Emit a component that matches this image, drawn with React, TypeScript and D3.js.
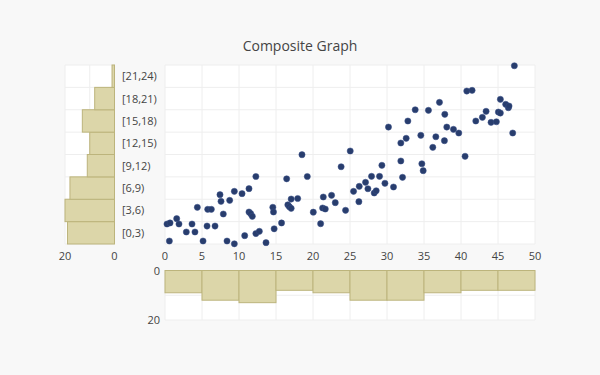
import React from "react";
import * as d3 from "d3";

// scatter points
const pointX = [
  0.27, 0.68, 0.59, 1.58, 1.89, 2.88, 3.65, 4.05, 4.37, 5.14,
  5.68, 5.77, 6.26, 6.76, 7.43, 7.57, 7.88, 8.38, 8.74, 9.37,
  9.37, 10.41, 10.77, 11.35, 11.35, 11.58, 11.8, 12.28, 12.28, 12.75,
  13.65, 14.57, 14.66, 14.75, 15.75, 16.44, 16.6, 16.8, 17.05, 17.05,
  17.93, 18.51, 19.23, 20.04, 21.03, 21.39, 21.3, 21.66, 22.51, 23.01,
  23.8, 24.4, 25.03, 25.48, 26.2, 26.25, 27.1, 27.42, 27.91, 28.27,
  28.54, 28.99, 29.31, 29.72, 30.2, 30.88, 31.87, 31.87, 32.1, 32.59,
  32.82, 33.81, 34.57, 34.71, 34.89, 35.6, 36.19, 36.6, 37.09, 37.76,
  37.81, 38.08, 38.98, 39.7, 40.55, 40.78, 41.5, 42.0, 42.89, 43.39,
  44.06, 44.78, 45.05, 45.32, 45.32, 46.04, 46.4, 46.49, 46.99, 47.21,
];
const pointY = [
  2.68, 2.82, 0.4, 3.4, 2.68, 1.61, 2.68, 1.61, 4.92, 0.4,
  2.41, 4.65, 4.65, 2.41, 6.61, 5.72, 4.02, 0.4, 5.85, 0.03,
  7.06, 6.75, 1.12, 7.42, 4.29, 4.07, 3.71, 9.05, 1.4, 1.7,
  0.18, 4.92, 4.29, 2.04, 2.82, 8.74, 5.25, 5.0, 4.78, 6.03,
  6.1, 11.97, 9.05, 4.27, 2.72, 6.3, 4.83, 4.69, 6.53, 5.54,
  10.36, 4.52, 12.47, 7.06, 5.67, 7.73, 8.27, 7.41, 9.07, 6.84,
  7.14, 9.07, 10.55, 8.14, 15.68, 7.64, 13.54, 11.13, 8.94, 14.17,
  16.49, 18.0, 14.57, 10.76, 9.83, 17.92, 12.96, 14.38, 18.99, 13.85,
  17.39, 15.68, 15.37, 14.88, 11.76, 20.51, 20.6, 16.49, 16.98, 17.79,
  16.31, 16.39, 17.69, 19.4, 17.56, 18.73, 18.27, 18.5, 14.88, 23.9,
];

// left histogram (counts per y band)
const yBinLabels = ["[0,3)", "[3,6)", "[6,9)", "[9,12)", "[12,15)", "[15,18)", "[18,21)", "[21,24)"];
const yBinCounts = [19, 20, 18, 11, 10, 13, 8, 1];

// bottom histogram (counts per x band)
const xBinCounts = [9, 12, 13, 8, 9, 12, 12, 9, 8, 8];

const W = 600;
const H = 375;
const FONT = "'Open Sans', verdana, sans-serif";
const GRID = "#eeeeee";
const TXT = "#444";
const DOT = "#283d6d";
const BAR_FILL = "#dcd6a9";
const BAR_LINE = "#bcb47c";

export default function App() {
  const x = d3.scaleLinear().domain([0, 50]).range([165, 535]);
  const y = d3.scaleLinear().domain([0, 24]).range([244, 65]);
  const hx = d3.scaleLinear().domain([0, 20]).range([114.5, 65]); // left hist, reversed
  const hy = d3.scaleLinear().domain([0, 20]).range([270.5, 320]); // bottom hist, downward

  const xTicks = d3.range(0, 51, 5);
  const yEdges = d3.range(0, 25, 3);
  const pts = pointX.map((v, i) => [v, pointY[i]]);

  return (
    <div style={{ position: "absolute", left: 0, top: 0 }}>
      <svg width={W} height={H} style={{ display: "block", fontFamily: FONT }}>
        <rect width={W} height={H} fill="#f8f8f8" />

        <text x={300} y={51} textAnchor="middle" fontSize={14} fill={TXT}>
          Composite Graph
        </text>

        {/* scatter panel */}
        <rect x={165} y={65} width={370} height={179} fill="#fff" />
        {xTicks.map((t) => (
          <line key={"sx" + t} x1={x(t)} x2={x(t)} y1={65} y2={244} stroke={GRID} />
        ))}
        {yEdges.map((t) => (
          <line key={"sy" + t} x1={165} x2={535} y1={y(t)} y2={y(t)} stroke={GRID} />
        ))}
        {xTicks.map((t) => (
          <text key={"xl" + t} x={x(t)} y={260} textAnchor="middle" fontSize={11} fill={TXT}>
            {t}
          </text>
        ))}
        {yBinLabels.map((l, i) => (
          <text key={l} x={122} y={y(i * 3 + 1.5) + 4} fontSize={11} fill={TXT}>
            {l}
          </text>
        ))}
        {pts.map((p, i) => (
          <circle key={"p" + i} cx={x(p[0])} cy={y(p[1])} r={3.1} fill={DOT} stroke="#3b5088" strokeWidth={0.5} />
        ))}

        {/* left histogram */}
        <rect x={65} y={65} width={49.5} height={179} fill="#fff" />
        {[0, 10, 20].map((t) => (
          <line key={"lx" + t} x1={hx(t)} x2={hx(t)} y1={65} y2={244} stroke={GRID} />
        ))}
        {yEdges.map((t) => (
          <line key={"ly" + t} x1={65} x2={114.5} y1={y(t)} y2={y(t)} stroke={GRID} />
        ))}
        {yBinCounts.map((c, i) => (
          <rect
            key={"lb" + i}
            x={hx(c)}
            y={y((i + 1) * 3)}
            width={hx(0) - hx(c)}
            height={y(i * 3) - y((i + 1) * 3)}
            fill={BAR_FILL}
            stroke={BAR_LINE}
            strokeWidth={1}
          />
        ))}
        {[20, 0].map((t) => (
          <text key={"lt" + t} x={hx(t)} y={260} textAnchor="middle" fontSize={11} fill={TXT}>
            {t}
          </text>
        ))}

        {/* bottom histogram */}
        <rect x={165} y={270.5} width={370} height={49.5} fill="#fff" />
        {xTicks.map((t) => (
          <line key={"bx" + t} x1={x(t)} x2={x(t)} y1={270.5} y2={320} stroke={GRID} />
        ))}
        {[0, 10, 20].map((t) => (
          <line key={"by" + t} x1={165} x2={535} y1={hy(t)} y2={hy(t)} stroke={GRID} />
        ))}
        {xBinCounts.map((c, i) => (
          <rect
            key={"bb" + i}
            x={x(i * 5)}
            y={hy(0)}
            width={x((i + 1) * 5) - x(i * 5)}
            height={hy(c) - hy(0)}
            fill={BAR_FILL}
            stroke={BAR_LINE}
            strokeWidth={1}
          />
        ))}
        {[0, 20].map((t) => (
          <text key={"bt" + t} x={160} y={hy(t) + 4} textAnchor="end" fontSize={11} fill={TXT}>
            {t}
          </text>
        ))}
      </svg>
    </div>
  );
}
